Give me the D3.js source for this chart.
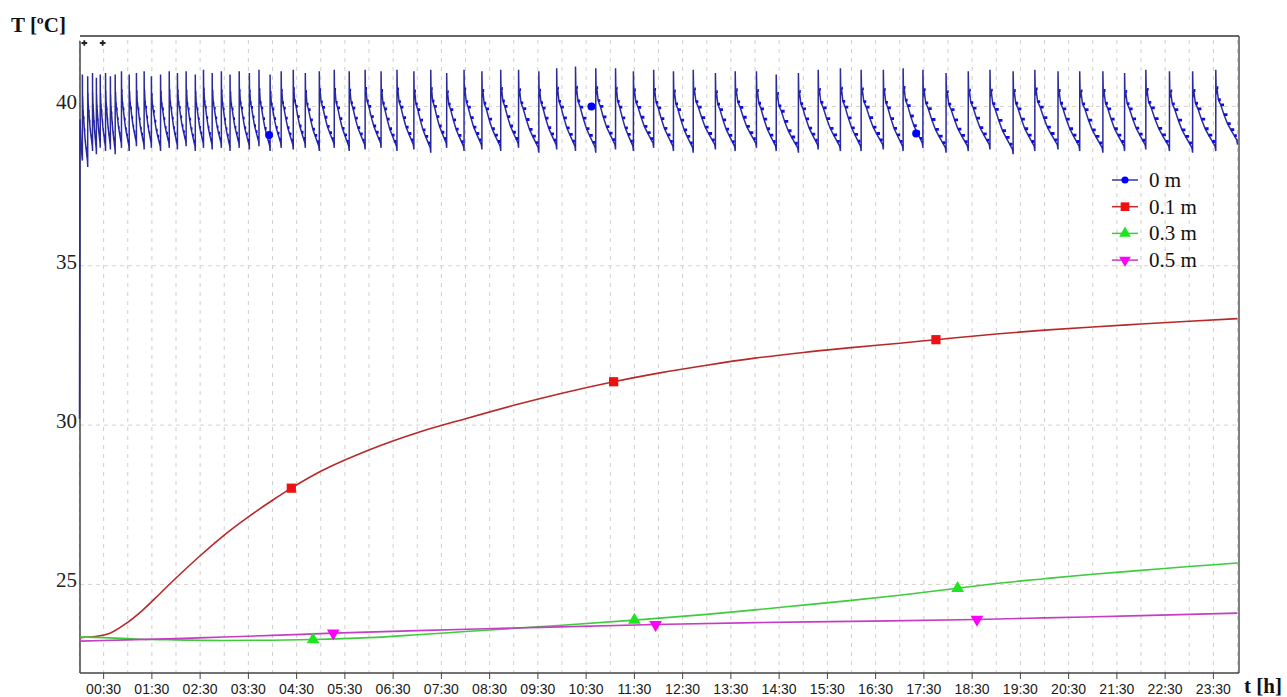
<!DOCTYPE html>
<html>
<head>
<meta charset="utf-8">
<script src="https://cdn.jsdelivr.net/npm/d3@7"></script>
<style>
    body { margin: 0; background: #fff; }
    .xlab { font-family: "Liberation Sans", Arial, sans-serif; font-size: 14px; fill: #1a1a1a; }
    .ylab { font-family: "Liberation Serif", "Times New Roman", serif; font-size: 21px; fill: #222; }
    .leg { font-family: "Liberation Serif", "Times New Roman", serif; font-size: 21px; fill: #111; }
    .title { font-family: "Liberation Serif", "Times New Roman", serif; font-size: 21px; font-weight: bold; fill: #111; }
</style>
</head>
<body>
<svg class="graph"></svg>
<script>
// axis ticks
var xTickLabels = ["00:30", "01:30", "02:30", "03:30", "04:30", "05:30", "06:30", "07:30",
    "08:30", "09:30", "10:30", "11:30", "12:30", "13:30", "14:30", "15:30",
    "16:30", "17:30", "18:30", "19:30", "20:30", "21:30", "22:30", "23:30"]
var yTicks = [25, 30, 35, 40]

// 0 m : heater surface, on/off cycles (time of each rise [h], peak and trough [degC])
var blueRise = [0.06, 0.17, 0.27, 0.35, 0.43, 0.54, 0.64, 0.74, 0.87, 1.03,
    1.18, 1.34, 1.49, 1.68, 1.86, 2.03, 2.21, 2.40, 2.57, 2.75,
    2.94, 3.12, 3.31, 3.52, 3.72, 3.95, 4.18, 4.43, 4.68, 4.97,
    5.28, 5.59, 5.92, 6.25, 6.58, 6.93, 7.28, 7.61, 7.97, 8.34,
    8.73, 9.10, 9.52, 9.89, 10.28, 10.70, 11.11, 11.48, 11.90, 12.31,
    12.72, 13.18, 13.59, 14.03, 14.44, 14.90, 15.31, 15.77, 16.20, 16.66,
    17.07, 17.48, 17.96, 18.42, 18.87, 19.35, 19.80, 20.28, 20.73, 21.21,
    21.66, 22.10, 22.59, 23.07, 23.55]
var bluePeak = [41.0, 40.95, 41.05, 40.9, 41.0, 41.05, 40.95, 41.0, 41.1, 41.0,
    41.05, 41.1, 40.95, 41.0, 41.1, 41.05, 41.1, 41.0, 41.15, 41.05,
    41.1, 41.0, 41.1, 41.05, 41.15, 41.0, 41.1, 41.15, 41.05, 41.1,
    41.15, 41.1, 41.15, 41.1, 41.15, 41.1, 41.15, 41.05, 41.15, 41.1,
    41.15, 41.15, 41.1, 41.2, 41.25, 41.2, 41.2, 41.1, 41.15, 41.1,
    41.15, 41.05, 41.1, 41.1, 41.0, 41.05, 41.15, 41.2, 41.15, 41.15,
    41.2, 41.15, 41.05, 41.1, 41.15, 41.1, 41.15, 41.1, 41.1, 41.1,
    41.05, 41.15, 41.1, 41.1, 41.15]
var blueLow = [38.3, 38.1, 38.6, 38.5, 38.7, 38.6, 38.65, 38.5, 38.7, 38.6,
    38.75, 38.65, 38.7, 38.6, 38.7, 38.65, 38.75, 38.6, 38.7, 38.65,
    38.7, 38.6, 38.7, 38.65, 38.75, 38.6, 38.7, 38.65, 38.7, 38.6,
    38.7, 38.6, 38.65, 38.7, 38.6, 38.65, 38.55, 38.7, 38.6, 38.65,
    38.6, 38.7, 38.55, 38.65, 38.6, 38.55, 38.65, 38.6, 38.7, 38.6,
    38.55, 38.65, 38.6, 38.7, 38.6, 38.55, 38.65, 38.6, 38.6, 38.65,
    38.6, 38.7, 38.55, 38.6, 38.65, 38.5, 38.6, 38.65, 38.6, 38.55,
    38.6, 38.65, 38.6, 38.55, 38.6]
var blueStart = [[0, 30.2], [0.01, 39.6], [0.03, 38.8]]
var blueEnd = 38.8
// shape of the decay between two rises (fraction of cycle, fraction of swing)
var blueDecay = [[0.02, 0.69], [0.05, 0.76], [0.12, 0.6], [0.23, 0.53], [0.38, 0.4], [0.54, 0.28],
    [0.69, 0.2], [0.85, 0.12], [0.97, 0.06]]
var blueMarkT = [3.93, 10.61, 17.34]
var blueMarkV = [39.1, 40.0, 39.15]

// 0.1 m
var redT = [0, 0.4, 0.62, 0.97, 1.3, 1.66, 2.0, 2.5, 3.0, 3.5, 4.0, 4.39, 5, 6, 7, 8, 9, 10,
    11.07, 12, 13, 14, 15, 16, 17, 17.75, 19, 20, 21, 22, 23, 24]
var redV = [23.33, 23.38, 23.46, 23.78, 24.18, 24.7, 25.2, 25.9, 26.55, 27.12, 27.64, 28.02,
    28.55, 29.22, 29.76, 30.2, 30.62, 31.0, 31.36, 31.63, 31.88, 32.1, 32.28, 32.43, 32.57,
    32.68, 32.86, 32.98, 33.08, 33.17, 33.26, 33.34]
var redMarkT = [4.39, 11.07, 17.75]

// 0.3 m
var greenT = [0, 0.5, 1, 1.5, 2, 3, 4, 4.84, 6, 7, 8, 9, 10, 11.5, 13, 14, 15, 16, 17, 18.2,
    19, 20, 21, 22, 23, 24]
var greenV = [23.35, 23.33, 23.3, 23.27, 23.26, 23.24, 23.25, 23.27, 23.33, 23.42, 23.52,
    23.62, 23.72, 23.88, 24.06, 24.2, 24.35, 24.5, 24.66, 24.88, 25.03, 25.18, 25.32, 25.44,
    25.56, 25.67]
var greenMarkT = [4.84, 11.5, 18.2]

// 0.5 m
var magT = [0, 1, 2, 3, 4, 5.26, 7, 9, 11.94, 14, 16, 18.6, 20, 22, 24]
var magV = [23.22, 23.26, 23.3, 23.35, 23.4, 23.47, 23.55, 23.63, 23.74, 23.8, 23.84, 23.9,
    23.95, 24.02, 24.1]
var magMarkT = [5.26, 11.94, 18.6]

var crossT = [0.1, 0.48]

var legendNames = ["0 m", "0.1 m", "0.3 m", "0.5 m"]

var width = 1287, height = 697
var plotLeft = 80, plotRight = 1239, plotTop = 36, plotBottom = 673

var svg = d3.select(".graph")
    .attr("width", width)
    .attr("height", height)

var x = d3.scaleLinear().domain([0, 24]).range([79.5, 1237.5])
var y = d3.scaleLinear().domain([22.22, 42.21]).range([plotBottom, plotTop])

function zip(ts, vs) {
    return ts.map((t, i) => [t, vs[i]])
}
function valueAt(ts, vs, t) {
    var i = d3.bisectRight(ts, t)
    if (i <= 0) return vs[0]
    if (i >= ts.length) return vs[vs.length - 1]
    var k = (t - ts[i - 1]) / (ts[i] - ts[i - 1])
    return vs[i - 1] + k * (vs[i] - vs[i - 1])
}

// build blue series
var blue = blueStart.slice()
var plateaus = []
for (let i = 0; i < blueRise.length; i++) {
    let t0 = blueRise[i]
    let t1 = i + 1 < blueRise.length ? blueRise[i + 1] : 24
    let P = bluePeak[i]
    let L = i + 1 < blueLow.length ? blueLow[i + 1] : blueEnd
    blue.push([t0, blueLow[i]])
    blue.push([t0, P])
    let prev = null
    for (let s of blueDecay) {
        let p = [t0 + s[0] * (t1 - t0), L + s[1] * (P - L)]
        blue.push(p)
        if (prev) plateaus.push([prev, [p[0], prev[1]]])
        prev = p
    }
    plateaus.push([prev, [t1, prev[1]]])
}
blue.push([24, blueEnd])

// grid
var gridX = d3.range(0, 24.01, 0.5)
svg.append("g").selectAll("line")
    .data(gridX)
    .enter().append("line")
    .attr("x1", d => x(d)).attr("x2", d => x(d))
    .attr("y1", plotTop + 4).attr("y2", plotBottom)
    .attr("stroke", "#cfcfcf")
    .attr("stroke-dasharray", "4,5")

svg.append("g").selectAll("line")
    .data(yTicks)
    .enter().append("line")
    .attr("x1", plotLeft).attr("x2", plotRight)
    .attr("y1", d => y(d)).attr("y2", d => y(d))
    .attr("stroke", "#d6d3c8")
    .attr("stroke-dasharray", "4,4")

// frame
svg.append("line").attr("x1", plotLeft).attr("x2", plotRight).attr("y1", plotTop).attr("y2", plotTop)
    .attr("stroke", "#333").attr("stroke-width", 1.5)
svg.append("line").attr("x1", plotRight).attr("x2", plotRight).attr("y1", plotTop).attr("y2", plotBottom)
    .attr("stroke", "#555").attr("stroke-width", 1.5)
svg.append("line").attr("x1", plotLeft).attr("x2", plotLeft).attr("y1", plotTop + 5).attr("y2", plotBottom)
    .attr("stroke", "#444").attr("stroke-width", 1.5)
svg.append("line").attr("x1", plotLeft).attr("x2", plotRight).attr("y1", plotBottom).attr("y2", plotBottom)
    .attr("stroke", "#444").attr("stroke-width", 1.5)

// x axis ticks & labels
var xTicks = xTickLabels.map(s => +s.slice(0, 2) + (+s.slice(3)) / 60)
svg.append("g").selectAll("line")
    .data(xTicks)
    .enter().append("line")
    .attr("x1", d => x(d)).attr("x2", d => x(d))
    .attr("y1", plotBottom).attr("y2", plotBottom + 6)
    .attr("stroke", "#444")
svg.append("g").selectAll("text")
    .data(xTickLabels)
    .enter().append("text")
    .attr("class", "xlab")
    .attr("x", (d, i) => x(xTicks[i]))
    .attr("y", 694)
    .attr("text-anchor", "middle")
    .text(d => d)

svg.append("g").selectAll("text")
    .data(yTicks)
    .enter().append("text")
    .attr("class", "ylab")
    .attr("x", 77)
    .attr("y", d => y(d) + 3)
    .attr("text-anchor", "end")
    .text(d => d)

svg.append("text").attr("class", "title").attr("x", 11).attr("y", 32).text("T [ºC]")
svg.append("text").attr("class", "title").attr("x", 1244).attr("y", 693).text("t [h]")

svg.append("g").selectAll("path")
    .data(crossT)
    .enter().append("path")
    .attr("d", d3.symbol(d3.symbolCross, 18))
    .attr("transform", d => "translate(" + x(d) + "," + y(41.99) + ")")
    .attr("fill", "#222")

var line = d3.line().x(d => x(d[0])).y(d => y(d[1]))

// blue
svg.append("path")
    .attr("d", line.curve(d3.curveLinear)(blue))
    .attr("fill", "none")
    .attr("stroke", "#2c2c98")
    .attr("stroke-width", 1.5)
svg.append("path")
    .attr("d", plateaus.map(s => "M" + x(s[0][0]) + "," + y(s[0][1]) + "H" + x(s[1][0])).join(""))
    .attr("fill", "none")
    .attr("stroke", "#0c0ce8")
    .attr("stroke-width", 2.8)

var smooth = d3.line().x(d => x(d[0])).y(d => y(d[1])).curve(d3.curveMonotoneX)

var series = [
    { ts: redT, vs: redV, color: "#b82828", mark: "#ee1111", sym: d3.symbolSquare, size: 85, rot: 0, markT: redMarkT },
    { ts: greenT, vs: greenV, color: "#3ccc3c", mark: "#1ee61e", sym: d3.symbolTriangle, size: 70, rot: 0, markT: greenMarkT },
    { ts: magT, vs: magV, color: "#c63cc6", mark: "#ff00ff", sym: d3.symbolTriangle, size: 70, rot: 180, markT: magMarkT }
]

for (let s of series) {
    svg.append("path")
        .attr("d", smooth(zip(s.ts, s.vs)))
        .attr("fill", "none")
        .attr("stroke", s.color)
        .attr("stroke-width", 1.6)
}
for (let s of series) {
    svg.append("g").selectAll("path")
        .data(s.markT)
        .enter().append("path")
        .attr("d", d3.symbol(s.sym, s.size))
        .attr("transform", d => "translate(" + x(d) + "," + y(valueAt(s.ts, s.vs, d)) + ") rotate(" + s.rot + ")")
        .attr("fill", s.mark)
}
svg.append("g").selectAll("circle")
    .data(blueMarkT)
    .enter().append("circle")
    .attr("cx", d => x(d))
    .attr("cy", (d, i) => y(blueMarkV[i]))
    .attr("r", 4)
    .attr("fill", "#0000ff")

// legend
var legColors = ["#3333aa", "#c82828", "#3ccc3c", "#c63cc6"]
var legMarks = ["#0000ff", "#ee1111", "#1ee61e", "#ff00ff"]
var legend = svg.selectAll(".legend")
    .data(legendNames)
    .enter().append("g")
    .attr("class", "legend")
    .attr("transform", (d, i) => "translate(1112," + (180 + i * 26.7) + ")")
legend.append("line")
    .attr("x1", 0).attr("x2", 26).attr("y1", 0).attr("y2", 0)
    .attr("stroke", (d, i) => legColors[i])
    .attr("stroke-width", 1.5)
legend.append("path")
    .attr("d", (d, i) => {
        var sym = [d3.symbolCircle, d3.symbolSquare, d3.symbolTriangle, d3.symbolTriangle][i]
        var size = [40, 75, 60, 60][i]
        return d3.symbol(sym, size)()
    })
    .attr("transform", (d, i) => "translate(13,0)" + (i == 3 ? " rotate(180)" : ""))
    .attr("fill", (d, i) => legMarks[i])
legend.append("text")
    .attr("class", "leg")
    .attr("x", 37)
    .attr("y", 7)
    .text(d => d)
</script>
</body>
</html>
